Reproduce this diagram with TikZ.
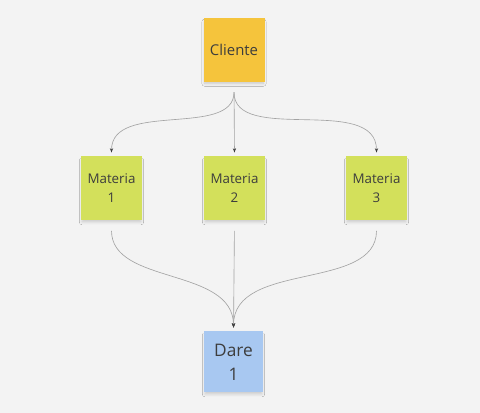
\documentclass[tikz,border=0pt]{standalone}
\usepackage{fontspec,xcolor,tikz}
\setmainfont{Open Sans}
\usetikzlibrary{arrows.meta,shadows.blur}
\definecolor{paper}{HTML}{F3F3F3}
\definecolor{ink}{HTML}{3D3D3D}
\definecolor{wire}{HTML}{A3A3A3}
\definecolor{gold}{HTML}{F5C43C}
\definecolor{lime}{HTML}{D3E05B}
\definecolor{sky}{HTML}{A8C8F1}
\newcommand{\notefont}{\fontsize{9.5}{13.5}\selectfont}
\newcommand{\bigfont}{\fontsize{12.3}{17}\selectfont}
\tikzset{
  note/.style={inner sep=0,text=ink,align=center,minimum width=15.25mm,minimum height=16mm,
    blur shadow={shadow xshift=0pt,shadow yshift=-0.7mm,shadow scale=0.96,shadow blur steps=6,shadow opacity=18}},
  link/.style={wire,line width=0.45pt,-{Stealth[length=1.1mm,width=0.8mm,fill=ink,color=ink]},
    shorten <=2.5mm,shorten >=0.9mm}
}

\begin{document}
\begin{tikzpicture}[x=0.25mm,y=0.25mm]
\fill[paper] (0,0) rectangle (480,413);
\useasboundingbox (0,0) rectangle (480,413);
\node[note,fill=gold,font=\fontsize{10.6}{14}\selectfont] (cliente) at (234,363) {Cliente};
\node[note,fill=lime,font=\notefont] (mat1) at (111.5,224.5) {Materia\\1};
\node[note,fill=lime,font=\notefont] (mat2) at (234.5,224.5) {Materia\\2};
\node[note,fill=lime,font=\notefont] (mat3) at (376.5,224.5) {Materia\\3};
\node[note,fill=sky,font=\bigfont,minimum width=14.75mm,minimum height=15.25mm] (dare) at (233.5,51) {Dare\\1};
% cliente -> materie
\draw[link] (cliente.south) to[out=-90,in=90] (mat1.north);
\draw[link] (cliente.south) -- (mat2.north);
\draw[link] (cliente.south) to[out=-90,in=90] (mat3.north);
% materie -> dare
\draw[link] (mat1.south) to[out=-90,in=90] (dare.north);
\draw[link] (mat2.south) -- (dare.north);
\draw[link] (mat3.south) to[out=-90,in=90] (dare.north);
\end{tikzpicture}
\end{document}
